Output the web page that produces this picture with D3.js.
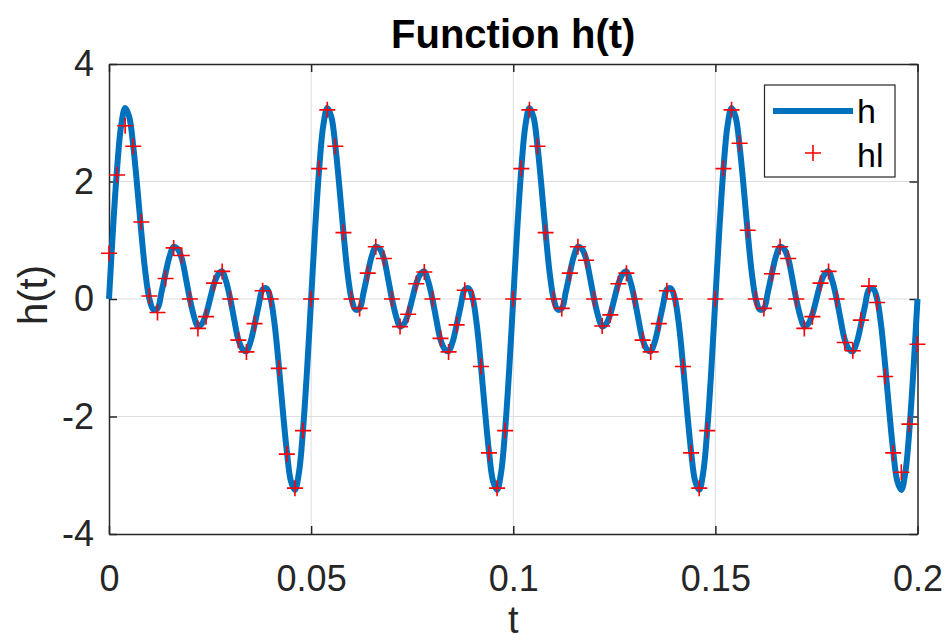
<!DOCTYPE html>
<html>
<head>
<meta charset="utf-8">
<title>Function h(t)</title>
<script src="https://cdn.jsdelivr.net/npm/d3@7"></script>
<style>
  html, body { margin: 0; padding: 0; background: #fff; }
  svg { display: block; font-family: "Liberation Sans", Arial, Helvetica, sans-serif; }
  .axis path, .axis line { stroke: #262626; stroke-width: 1.5; }
  .axis text { fill: #262626; font-size: 36px; }
</style>
</head>
<body>
<div id="chart"></div>
<script>
// time steps of the two series (s)
const lineStep = 0.001;
const markerStep = 0.002;

// h : continuous curve, one value every 0.001 s from 0 to 0.2
const hValues = [
  0, 1.2, 2.22, 2.95, 3.25, 3.1, 2.6, 1.9, 1.13, 0.45,
  0, -0.18, -0.16, 0.12, 0.44, 0.73, 0.89, 0.85, 0.69, 0.36,
  0, -0.29, -0.47, -0.42, -0.26, 0, 0.26, 0.42, 0.47, 0.29,
  0, -0.36, -0.69, -0.85, -0.89, -0.73, -0.44, -0.12, 0.16, 0.18,
  0, -0.45, -1.13, -1.9, -2.6, -3.1, -3.25, -2.95, -2.22, -1.2,
  0, 1.2, 2.22, 2.95, 3.25, 3.1, 2.6, 1.9, 1.13, 0.45,
  0, -0.18, -0.16, 0.12, 0.44, 0.73, 0.89, 0.85, 0.69, 0.36,
  0, -0.29, -0.47, -0.42, -0.26, 0, 0.26, 0.42, 0.47, 0.29,
  0, -0.36, -0.69, -0.85, -0.89, -0.73, -0.44, -0.12, 0.16, 0.18,
  0, -0.45, -1.13, -1.9, -2.6, -3.1, -3.25, -2.95, -2.22, -1.2,
  0, 1.2, 2.22, 2.95, 3.25, 3.1, 2.6, 1.9, 1.13, 0.45,
  0, -0.18, -0.16, 0.12, 0.44, 0.73, 0.89, 0.85, 0.69, 0.36,
  0, -0.29, -0.47, -0.42, -0.26, 0, 0.26, 0.42, 0.47, 0.29,
  0, -0.36, -0.69, -0.85, -0.89, -0.73, -0.44, -0.12, 0.16, 0.18,
  0, -0.45, -1.13, -1.9, -2.6, -3.1, -3.25, -2.95, -2.22, -1.2,
  0, 1.2, 2.22, 2.95, 3.25, 3.1, 2.6, 1.9, 1.13, 0.45,
  0, -0.18, -0.16, 0.12, 0.44, 0.73, 0.89, 0.85, 0.69, 0.36,
  0, -0.29, -0.47, -0.42, -0.26, 0, 0.26, 0.42, 0.47, 0.29,
  0, -0.36, -0.69, -0.85, -0.89, -0.73, -0.44, -0.12, 0.16, 0.18,
  0, -0.45, -1.13, -1.9, -2.6, -3.1, -3.25, -2.95, -2.22, -1.2,
  0
];

// hl : red markers, one value every 0.002 s from 0 to 0.2
const hlValues = [
  0.78, 2.11, 2.95, 2.6, 1.31, 0.05, -0.23, 0.35, 0.87, 0.74,
  0, -0.5, -0.3, 0.27, 0.47, 0, -0.7, -0.9, -0.42, 0.14,
  0, -1.18, -2.64, -3.22, -2.24,
  0, 2.22, 3.22, 2.6, 1.13, 0, -0.16, 0.44, 0.89, 0.69,
  0, -0.47, -0.26, 0.26, 0.46, 0, -0.67, -0.9, -0.44, 0.15,
  0, -1.15, -2.62, -3.22, -2.24,
  0, 2.22, 3.22, 2.6, 1.13, 0, -0.16, 0.44, 0.89, 0.66,
  0, -0.46, -0.27, 0.26, 0.44, 0, -0.7, -0.9, -0.42, 0.14,
  0, -1.15, -2.62, -3.22, -2.24,
  0, 2.22, 3.22, 2.65, 1.17, 0, -0.16, 0.43, 0.89, 0.69,
  0, -0.5, -0.3, 0.27, 0.47, 0, -0.74, -0.88, -0.36, 0.22,
  -0.06, -1.32, -2.62, -2.95, -2.13, -0.77
];

const xTicks = [0, 0.05, 0.1, 0.15, 0.2];
const xTickLabels = ['0', '0.05', '0.1', '0.15', '0.2'];
const yTicks = [-4, -2, 0, 2, 4];
const yTickLabels = ['-4', '-2', '0', '2', '4'];
const seriesNames = ['h', 'hl'];

const lineData = hValues.map((v, i) => ({ t: i * lineStep, v: v }));
const markerData = hlValues.map((v, i) => ({ t: i * markerStep, v: v }));

const W = 947, H = 642;
const margin = { top: 64, right: 29.5, bottom: 108, left: 109 };
const width = W - margin.left - margin.right;
const height = H - margin.top - margin.bottom;

const svg = d3.select('#chart').append('svg')
  .attr('width', W)
  .attr('height', H);

svg.append('rect').attr('width', W).attr('height', H).attr('fill', '#fff');

const g = svg.append('g').attr('transform', `translate(${margin.left},${margin.top})`);

const x = d3.scaleLinear().domain([0, 0.2]).range([0, width]);
const y = d3.scaleLinear().domain([-4, 4]).range([height, 0]);

// grid
g.append('g').selectAll('line').data(xTicks.slice(1, -1)).enter().append('line')
  .attr('x1', d => x(d)).attr('x2', d => x(d))
  .attr('y1', 0).attr('y2', height)
  .attr('stroke', '#dedede').attr('stroke-width', 1);
g.append('g').selectAll('line').data(yTicks.slice(1, -1)).enter().append('line')
  .attr('x1', 0).attr('x2', width)
  .attr('y1', d => y(d)).attr('y2', d => y(d))
  .attr('stroke', '#dedede').attr('stroke-width', 1);

// axes (ticks point inward like matlab)
g.append('g')
  .attr('class', 'axis')
  .attr('transform', `translate(0,${height})`)
  .call(d3.axisBottom(x).tickValues(xTicks).tickFormat((d, i) => xTickLabels[i])
    .tickSizeInner(-8).tickSizeOuter(0).tickPadding(31));
g.append('g')
  .attr('class', 'axis')
  .call(d3.axisTop(x).tickValues(xTicks).tickFormat('')
    .tickSizeInner(-8).tickSizeOuter(0));
g.append('g')
  .attr('class', 'axis')
  .call(d3.axisLeft(y).tickValues(yTicks).tickFormat((d, i) => yTickLabels[i])
    .tickSizeInner(-8).tickSizeOuter(0).tickPadding(15));
g.append('g')
  .attr('class', 'axis')
  .attr('transform', `translate(${width},0)`)
  .call(d3.axisRight(y).tickValues(yTicks).tickFormat('')
    .tickSizeInner(-8).tickSizeOuter(0));

// h line
const line = d3.line()
  .x(d => x(d.t))
  .y(d => y(d.v))
  .curve(d3.curveCatmullRom);

g.append('path')
  .datum(lineData)
  .attr('d', line)
  .attr('fill', 'none')
  .attr('stroke', '#0072bd')
  .attr('stroke-width', 6)
  .attr('stroke-linejoin', 'round');

// hl markers
const plus = 'M-8,0H8M0,-8V8';
g.selectAll('.mk')
  .data(markerData)
  .enter().append('path')
  .attr('class', 'mk')
  .attr('transform', d => `translate(${x(d.t)},${y(d.v)})`)
  .attr('d', plus)
  .attr('stroke', '#ff0000')
  .attr('stroke-width', 1.6)
  .attr('fill', 'none');

// title and labels
svg.append('text')
  .attr('x', margin.left + width / 2).attr('y', 48)
  .attr('text-anchor', 'middle')
  .attr('font-size', 40).attr('font-weight', 'bold').attr('fill', '#000')
  .text('Function h(t)');

svg.append('text')
  .attr('x', margin.left + width / 2).attr('y', 633)
  .attr('text-anchor', 'middle')
  .attr('font-size', 38).attr('fill', '#262626')
  .text('t');

svg.append('text')
  .attr('transform', `translate(47,${margin.top + height / 2 - 4}) rotate(-90)`)
  .attr('text-anchor', 'middle')
  .attr('font-size', 40).attr('fill', '#262626')
  .text('h(t)');

// legend
const lg = svg.append('g');
lg.append('rect')
  .attr('x', 764.5).attr('y', 85).attr('width', 130.5).attr('height', 92)
  .attr('fill', '#fff').attr('stroke', '#262626').attr('stroke-width', 1.2);
lg.append('line')
  .attr('x1', 773).attr('x2', 853).attr('y1', 111).attr('y2', 111)
  .attr('stroke', '#0072bd').attr('stroke-width', 6);
lg.append('path')
  .attr('transform', 'translate(813,153)')
  .attr('d', plus)
  .attr('stroke', '#ff0000').attr('stroke-width', 1.6);
lg.selectAll('.lt').data(seriesNames).enter().append('text')
  .attr('class', 'lt')
  .attr('x', 857).attr('y', (d, i) => 123 + i * 44)
  .attr('font-size', 34).attr('fill', '#000')
  .text(d => d);
</script>
</body>
</html>
